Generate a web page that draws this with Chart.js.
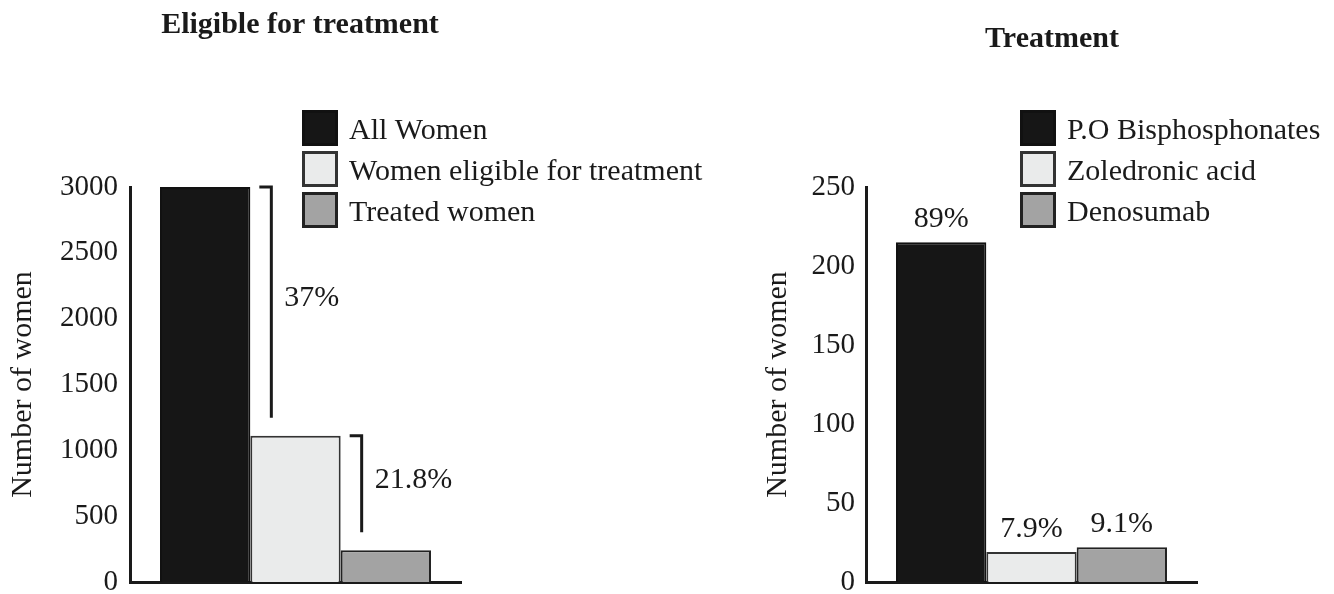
<!DOCTYPE html>
<html>
<head>
<meta charset="utf-8">
<script src="https://cdn.jsdelivr.net/npm/chart.js@4.4.1/dist/chart.umd.min.js"></script>
<style>
  html, body { margin: 0; padding: 0; background: #ffffff; }
  #wrap { position: relative; width: 1334px; height: 594px; overflow: hidden; }
  canvas { position: absolute; top: 0; }
  #eligibleChart { left: 0; }
  #treatmentChart { left: 740px; }
</style>
</head>
<body>
<div id="wrap">
  <canvas id="eligibleChart" width="740" height="594"></canvas>
  <canvas id="treatmentChart" width="594" height="594"></canvas>
</div>
<script>
// ---- data ----
const yTitle = 'Number of women';

const eligibleTitle = 'Eligible for treatment';
const eligibleGroups = ['All Women', 'Women eligible for treatment', 'Treated women'];
const eligibleCounts = [3000, 1110, 242];
const eligibleShares = ['37%', '21.8%'];   // step-to-step proportions
const eligibleTickMax = 3000;
const eligibleTickStep = 500;

const treatmentTitle = 'Treatment';
const treatmentGroups = ['P.O Bisphosphonates', 'Zoledronic acid', 'Denosumab'];
const treatmentCounts = [215, 19, 22];
const treatmentShares = ['89%', '7.9%', '9.1%'];
const treatmentTickMax = 250;
const treatmentTickStep = 50;

// ---- style ----
const FONT = "'Liberation Serif', 'Times New Roman', serif";
const INK = '#1a1a1a';
const FILLS = ['#161616', '#eaebeb', '#a3a3a3'];
const EDGES = ['#111111', '#333333', '#222222'];

// Titles, legend and percentage annotations drawn on top of the bars
function panelDecor(cfg) {
  return {
    id: 'panelDecor',
    afterDatasetsDraw(chart) {
      const ctx = chart.ctx;
      const area = chart.chartArea;
      ctx.save();

      // panel title
      ctx.fillStyle = INK;
      ctx.font = 'bold 30px ' + FONT;
      ctx.textAlign = 'center';
      ctx.textBaseline = 'alphabetic';
      ctx.fillText(cfg.title, (area.left + area.right) / 2 + cfg.titleShift, cfg.titleBaseline);

      // legend: stacked square swatches
      ctx.font = '30px ' + FONT;
      ctx.textAlign = 'left';
      chart.data.datasets.forEach((ds, i) => {
        const top = 110 + i * 41;
        const bx = cfg.legendX;
        ctx.fillStyle = ds.backgroundColor;
        ctx.fillRect(bx, top, 36, 36);
        ctx.lineWidth = 3;
        ctx.strokeStyle = ds.borderColor;
        ctx.strokeRect(bx + 1.5, top + 1.5, 33, 33);
        ctx.fillStyle = INK;
        ctx.fillText(ds.label, bx + 47, top + 29);
      });

      const bars = chart.data.datasets.map((_, i) => chart.getDatasetMeta(i).data[0]);
      ctx.fillStyle = INK;
      if (cfg.mode === 'bracket') {
        ctx.lineWidth = 3;
        ctx.strokeStyle = INK;
        cfg.shares.forEach((txt, i) => {
          const bar = bars[i];
          const next = bars[i + 1];
          const right = bar.x + bar.width / 2;
          const top = bar.y;
          const end = next.y - 18;
          const vx = right + 21;
          ctx.beginPath();
          ctx.moveTo(right + 9, top);
          ctx.lineTo(vx, top);
          ctx.lineTo(vx, end);
          ctx.stroke();
          ctx.textAlign = 'left';
          ctx.textBaseline = 'middle';
          ctx.fillText(txt, vx + 13, (top + end) / 2 - 4);
        });
      } else {
        ctx.textAlign = 'center';
        ctx.textBaseline = 'alphabetic';
        cfg.shares.forEach((txt, i) => {
          const bar = bars[i];
          ctx.fillText(txt, bar.x, bar.y - 15);
        });
      }
      ctx.restore();
    }
  };
}

function buildPanel(canvasId, groups, counts, tickMax, tickStep, cfg) {
  return new Chart(document.getElementById(canvasId), {
    type: 'bar',
    data: {
      labels: [''],
      datasets: groups.map((g, i) => ({
        label: g,
        data: [counts[i]],
        backgroundColor: FILLS[i],
        borderColor: EDGES[i],
        borderWidth: 2,
        categoryPercentage: 0.8187,
        barPercentage: 1
      }))
    },
    options: {
      responsive: false,
      animation: false,
      devicePixelRatio: 1,
      layout: { padding: { left: 0, top: 187, right: cfg.padRight, bottom: 12 } },
      plugins: {
        legend: { display: false },
        tooltip: { enabled: false },
        title: { display: false }
      },
      scales: {
        x: {
          grid: { display: false, drawTicks: false },
          ticks: { display: false },
          border: { display: true, width: 3, color: INK },
          afterFit(s) { s.height = 0; s.paddingLeft = 0; s.paddingRight = 0; }
        },
        y: {
          min: 0,
          max: tickMax,
          ticks: {
            stepSize: tickStep,
            padding: cfg.tickPad,
            color: INK,
            font: { family: FONT, size: 29 },
            callback: (v) => String(v)
          },
          grid: { display: false, drawTicks: false },
          border: { display: true, width: 3, color: INK },
          title: {
            display: true,
            text: yTitle,
            color: INK,
            font: { family: FONT, size: 30 },
            padding: { top: cfg.titlePad, bottom: 0 }
          },
          afterFit(s) { s.width = cfg.axisWidth; s.paddingTop = 0; s.paddingBottom = 0; }
        }
      }
    },
    plugins: [panelDecor(cfg)]
  });
}

buildPanel('eligibleChart', eligibleGroups, eligibleCounts, eligibleTickMax, eligibleTickStep, {
  title: eligibleTitle, titleShift: 4.5, titleBaseline: 33,
  legendX: 302, shares: eligibleShares, mode: 'bracket',
  padRight: 279, axisWidth: 130, tickPad: 12, titlePad: 5
});

buildPanel('treatmentChart', treatmentGroups, treatmentCounts, treatmentTickMax, treatmentTickStep, {
  title: treatmentTitle, titleShift: 20.5, titleBaseline: 47,
  legendX: 280, shares: treatmentShares, mode: 'top',
  padRight: 137, axisWidth: 126, tickPad: 11, titlePad: 20
});
</script>
</body>
</html>
